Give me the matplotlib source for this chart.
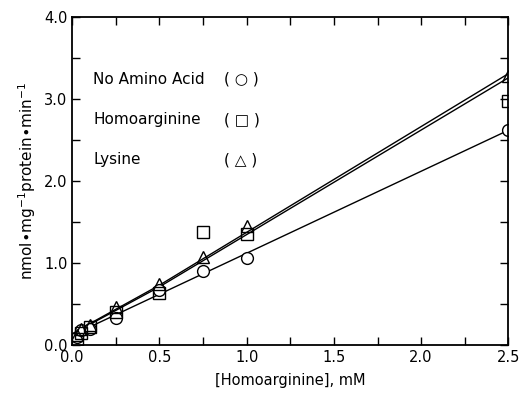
import matplotlib
matplotlib.use("Agg")
import matplotlib.pyplot as plt
from matplotlib.ticker import MultipleLocator

plt.rcParams['font.family'] = ['DejaVu Sans']

conc = [0.025, 0.05, 0.1, 0.25, 0.5, 0.75, 1.0, 2.5]
no_amino = [0.10, 0.18, 0.20, 0.33, 0.67, 0.90, 1.06, 2.62]
homoarg = [0.07, 0.15, 0.22, 0.40, 0.64, 1.38, 1.35, 2.98]
lysine = [0.12, 0.20, 0.24, 0.47, 0.75, 1.07, 1.45, 3.28]

# fitted lines
fit_x = [0.0, 0.1, 0.5, 2.5]
fit_no_amino = [0.10, 0.22, 0.62, 2.62]
fit_homoarg = [0.12, 0.25, 0.71, 3.26]
fit_lysine = [0.12, 0.26, 0.73, 3.31]

legend_labels = ["No Amino Acid", "Homoarginine", "Lysine"]
legend_marks = ["( \u25CB )", "( \u25A1 )", "( \u25B3 )"]

fig = plt.figure(figsize=(5.23, 3.98), dpi=100)
ax = fig.add_axes([0.138, 0.133, 0.834, 0.824])

for fy in (fit_no_amino, fit_homoarg, fit_lysine):
    ax.plot(fit_x, fy, color='black', lw=1.0)

ms = 8.5
ax.plot(conc, no_amino, 'o', mfc='white', mec='black', ms=ms, mew=1.0)
ax.plot(conc, homoarg, 's', mfc='none', mec='black', ms=ms, mew=1.0)
ax.plot(conc, lysine, '^', mfc='none', mec='black', ms=ms, mew=1.0)

ax.set_xlim(0, 2.5)
ax.set_ylim(0, 4.0)
ax.xaxis.set_major_locator(MultipleLocator(0.5))
ax.xaxis.set_minor_locator(MultipleLocator(0.25))
ax.yaxis.set_major_locator(MultipleLocator(1.0))
ax.yaxis.set_minor_locator(MultipleLocator(0.5))
ax.xaxis.set_major_formatter(matplotlib.ticker.FormatStrFormatter('%.1f'))
ax.yaxis.set_major_formatter(matplotlib.ticker.FormatStrFormatter('%.1f'))
ax.tick_params(which='both', direction='in', top=True, right=True, labelsize=10.5, width=1.0)
ax.tick_params(which='major', length=6)
ax.tick_params(which='minor', length=6)
for s in ax.spines.values():
    s.set_linewidth(1.3)

ax.set_xlabel("[Homoarginine], mM", fontsize=10.5, labelpad=6)
ax.set_ylabel(r"nmol$\bullet$mg$^{-1}$protein$\bullet$min$^{-1}$", fontsize=11, labelpad=4)

for i, (lab, mk) in enumerate(zip(legend_labels, legend_marks)):
    yy = 3.24 - i * 0.49
    ax.text(0.12, yy, lab, fontsize=11, va='center', ha='left')
    ax.text(0.87, yy, mk, fontsize=11, va='center', ha='left')

fig.savefig("out.png", dpi=100)
